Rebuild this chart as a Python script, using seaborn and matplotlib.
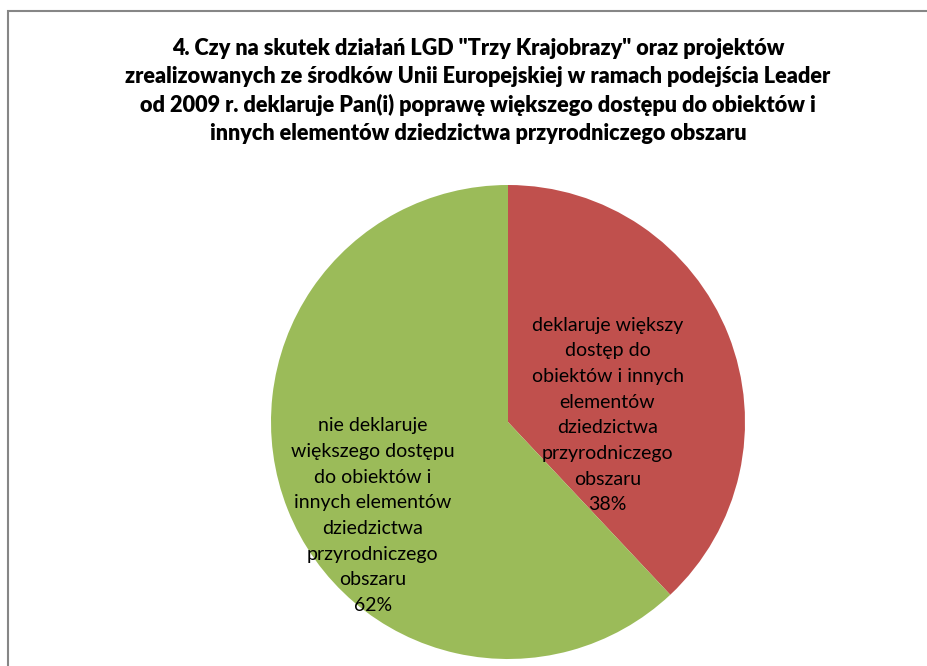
import matplotlib
matplotlib.use("Agg")
import matplotlib.pyplot as plt
import seaborn as sns
from matplotlib.patches import Rectangle

sns.set_theme(style="white")
plt.rcParams['font.family'] = ['Lato', 'DejaVu Sans']

title_lines = [
    '4. Czy na skutek działań LGD "Trzy Krajobrazy" oraz projektów',
    'zrealizowanych ze środków Unii Europejskiej w ramach podejścia Leader',
    'od 2009 r. deklaruje Pan(i) poprawę większego dostępu do obiektów i',
    'innych elementów dziedzictwa przyrodniczego obszaru',
]
categories = [
    "deklaruje większy\ndostęp do\nobiektów i innych\nelementów\ndziedzictwa\nprzyrodniczego\nobszaru",
    "nie deklaruje\nwiększego dostępu\ndo obiektów i\ninnych elementów\ndziedzictwa\nprzyrodniczego\nobszaru",
]
values = [38, 62]
colors = ["#C0504D", "#9BBB59"]

W, H = 927, 666
fig = plt.figure(figsize=(W / 100, H / 100), dpi=100)
fig.patch.set_facecolor("white")

# chart frame (extends past right and bottom edges)
fig.patches.append(Rectangle((8 / W, -0.05), 1.1, (H - 11) / H + 0.05,
                             transform=fig.transFigure, fill=False,
                             edgecolor="#868686", linewidth=1.5))

fig.text(478 / W, (H - 91) / H, "\n".join(title_lines), ha="center", va="center",
         fontsize=15.6, fontweight="heavy", color="black", linespacing=1.42)

R = 237
ax = fig.add_axes([(508 - R) / W, (H - 422 - R) / H, 2 * R / W, 2 * R / H])
wedges, _ = ax.pie(values, colors=colors, startangle=90, counterclock=False,
                   radius=1.0, wedgeprops=dict(linewidth=0))
ax.set_xlim(-1, 1)
ax.set_ylim(-1, 1)
ax.set_aspect("equal")
ax.axis("off")

label_pos = [(0.42, 0.03), (-0.57, -0.395)]
for cat, v, (x, y) in zip(categories, values, label_pos):
    ax.text(x, y, f"{cat}\n{v}%", ha="center", va="center", fontsize=14,
            color="black", linespacing=1.62)

fig.savefig("out.png", dpi=100, facecolor="white")
